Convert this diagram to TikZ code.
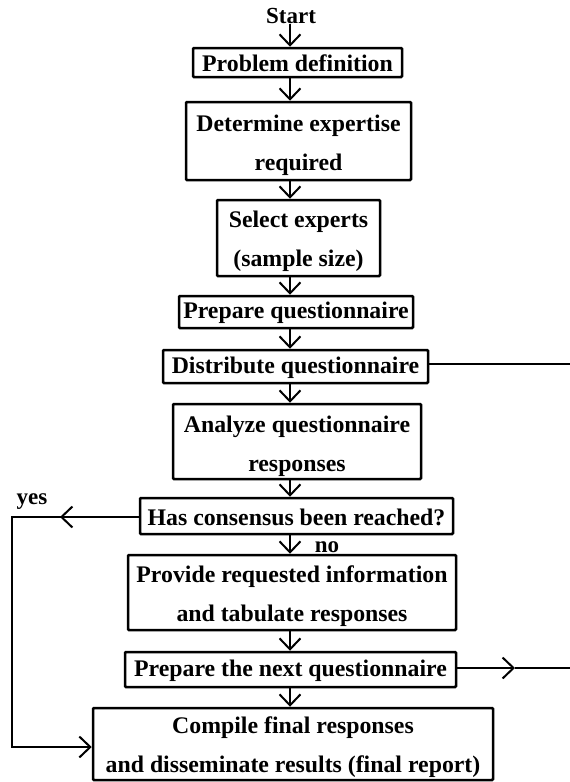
\documentclass[tikz,border=0pt]{standalone}
\usepackage{fontspec}
\setmainfont{Liberation Serif}
\usetikzlibrary{arrows.meta}
\begin{document}
\begin{tikzpicture}[x=1pt,y=-1pt,
  box/.style={draw, line width=2.5pt, inner sep=0pt, rounded corners=1pt},
  txt/.style={inner sep=0pt, align=center, font=\bfseries\fontsize{23.8}{39}\selectfont},
  lbl/.style={font=\bfseries\fontsize{23}{24}\selectfont, inner sep=0pt},
  flow/.style={line width=2pt, -{Straight Barb[length=11pt,width=21pt,line width=2pt]}},
  link/.style={line width=2pt}]
\useasboundingbox[fill=white] (0,0) rectangle (570,782);

\coordinate (spine) at (290,0);

\node[lbl] (start) at (291,16) {Start};
\node[box, minimum width=209pt, minimum height=29pt] (prob) at (297.5,62.5) {};
\node[box, minimum width=225pt, minimum height=78pt] (expert) at (298.5,141) {};
\node[box, minimum width=163pt, minimum height=76pt] (select) at (298.5,238) {};
\node[box, minimum width=234pt, minimum height=32pt] (prep) at (296,312) {};
\node[box, minimum width=265pt, minimum height=33pt] (dist) at (295.5,366.5) {};
\node[box, minimum width=248pt, minimum height=75pt] (analyze) at (297,441.5) {};
\node[box, minimum width=313pt, minimum height=36pt] (cons) at (296.5,516) {};
\node[box, minimum width=328pt, minimum height=75pt] (provide) at (292,592.5) {};
\node[box, minimum width=331pt, minimum height=35pt] (next) at (290.5,669.5) {};
\node[box, minimum width=400pt, minimum height=72pt] (comp) at (293,744) {};

\node[txt] (probT) at ([yshift=-1pt]prob.center) {Problem definition};
\node[txt] (expertT) at ([yshift=-4pt]expert.center) {Determine expertise\\required};
\node[txt] (selectT) at ([yshift=-3pt]select.center) {Select experts\\(sample size)};
\node[txt] (prepT) at ([yshift=-1pt]prep.center) {Prepare questionnaire};
\node[txt] (distT) at ([yshift=-1pt]dist.center) {Distribute questionnaire};
\node[txt] (analyzeT) at ([yshift=-5pt]analyze.center) {Analyze questionnaire\\responses};
\node[txt] (consT) at ([yshift=-1pt]cons.center) {Has consensus been reached?};
\node[txt] (provideT) at ([yshift=-4pt]provide.center) {Provide requested information\\and tabulate responses};
\node[txt] (nextT) at ([yshift=-1pt]next.center) {Prepare the next questionnaire};
\node[txt] (compT) at ([yshift=-3pt]comp.center) {Compile final responses\\and disseminate results (final report)};

\node[lbl] (yes) at (32,502) {yes};
\node[lbl] (no) at (327,547) {no};

\draw[flow] (start.south -| spine) -- (prob.north -| spine);
\draw[flow] (prob.south -| spine) -- (expert.north -| spine);
\draw[flow] (expert.south -| spine) -- (select.north -| spine);
\draw[flow] (select.south -| spine) -- (prep.north -| spine);
\draw[flow] (prep.south -| spine) -- (dist.north -| spine);
\draw[flow] (dist.south -| spine) -- (analyze.north -| spine);
\draw[flow] (analyze.south -| spine) -- (cons.north -| spine);
\draw[flow] (cons.south -| spine) -- (provide.north -| spine);
\draw[flow] (provide.south -| spine) -- (next.north -| spine);
\draw[flow] (next.south -| spine) -- (comp.north -| spine);

\coordinate (yesarr) at (60,517);
\coordinate (yescorner) at (12,517);
\coordinate (botcorner) at (12,747);
\draw[flow] (cons.west |- yesarr) -- (yesarr);
\draw[flow, line cap=rect] (yesarr) -- (yescorner) -- (botcorner) -- (comp.west |- botcorner);

\coordinate (redge1) at (570,364);
\draw[link] (dist.east |- redge1) -- (redge1);
\coordinate (rarr) at (515,668);
\coordinate (redge2) at (570,668);
\draw[flow] (next.east |- rarr) -- (rarr);
\draw[link] (rarr) -- (redge2);
\end{tikzpicture}
\end{document}
